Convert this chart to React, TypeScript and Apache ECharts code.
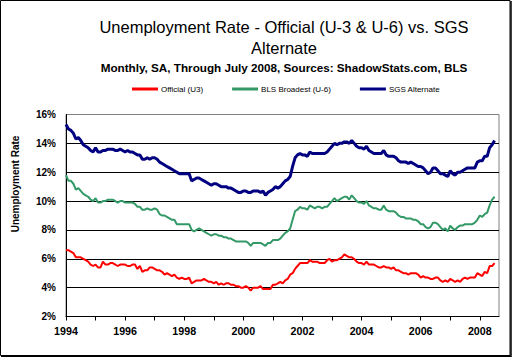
import React, { useEffect, useRef } from "react";
import * as echarts from "echarts";

const START_YEAR = 1994;
const TITLE_LINE1 = "Unemployment Rate - Official (U-3 & U-6) vs. SGS";
const TITLE_LINE2 = "Alternate";
const SUBTITLE = "Monthly, SA, Through July 2008, Sources: ShadowStats.com, BLS";
const Y_AXIS_TITLE = "Unemployment Rate";
const SERIES_NAMES = ["Official (U3)", "BLS Broadest (U-6)", "SGS Alternate"];
const X_TICK_YEARS = [1994, 1995, 1996, 1997, 1998, 1999, 2000, 2001, 2002, 2003, 2004, 2005, 2006, 2007, 2008];
const X_LABEL_YEARS = [1994, 1996, 1998, 2000, 2002, 2004, 2006, 2008];

// Monthly values, Jan 1994 .. Jul 2008
const officialU3 = [
  6.6, 6.6, 6.5, 6.4, 6.1, 6.1, 6.1, 6.0, 5.9, 5.8, 5.6, 5.5,
  5.6, 5.4, 5.4, 5.8, 5.6, 5.6, 5.7, 5.7, 5.6, 5.5, 5.6, 5.6,
  5.6, 5.5, 5.5, 5.6, 5.6, 5.3, 5.5, 5.1, 5.2, 5.2, 5.4, 5.4,
  5.3, 5.2, 5.2, 5.1, 4.9, 5.0, 4.9, 4.8, 4.9, 4.7, 4.6, 4.7,
  4.6, 4.6, 4.7, 4.3, 4.4, 4.5, 4.5, 4.5, 4.6, 4.5, 4.4, 4.4,
  4.3, 4.4, 4.2, 4.3, 4.2, 4.3, 4.3, 4.2, 4.2, 4.1, 4.1, 4.0,
  4.0, 4.1, 4.0, 3.8, 4.0, 4.0, 4.0, 4.1, 3.9, 3.9, 3.9, 3.9,
  4.2, 4.2, 4.3, 4.4, 4.3, 4.5, 4.6, 4.9, 5.0, 5.3, 5.5, 5.7,
  5.7, 5.7, 5.7, 5.9, 5.8, 5.8, 5.8, 5.7, 5.7, 5.7, 5.9, 6.0,
  5.8, 5.9, 5.9, 6.0, 6.1, 6.3, 6.2, 6.1, 6.1, 6.0, 5.8, 5.7,
  5.7, 5.6, 5.8, 5.6, 5.6, 5.6, 5.5, 5.4, 5.4, 5.5, 5.4, 5.4,
  5.3, 5.4, 5.2, 5.2, 5.1, 5.0, 5.0, 4.9, 5.0, 5.0, 5.0, 4.9,
  4.7, 4.8, 4.7, 4.7, 4.6, 4.6, 4.7, 4.7, 4.5, 4.4, 4.5, 4.4,
  4.6, 4.5, 4.4, 4.5, 4.4, 4.6, 4.7, 4.6, 4.7, 4.7, 4.7, 5.0,
  4.9, 4.8, 5.1, 5.0, 5.5, 5.5, 5.7,
];

const blsU6 = [
  11.8, 11.4, 11.4, 11.2, 10.8, 10.9, 10.7, 10.5, 10.4, 10.3, 10.1, 10.0,
  10.2, 9.9, 9.9, 10.0, 10.0, 10.1, 10.1, 10.1, 10.0, 9.9, 10.0, 10.0,
  9.9, 9.9, 9.9, 9.9, 9.8, 9.6, 9.6, 9.4, 9.4, 9.5, 9.4, 9.4,
  9.5, 9.4, 9.1, 9.0, 9.0, 8.9, 8.8, 8.7, 8.7, 8.4, 8.4, 8.4,
  8.4, 8.4, 8.4, 8.0, 7.9, 8.0, 8.1, 8.0, 7.9, 7.8, 7.7, 7.6,
  7.7, 7.7, 7.6, 7.6, 7.5, 7.5, 7.4, 7.4, 7.3, 7.2, 7.2, 7.2,
  7.2, 7.2, 7.1, 6.9, 7.1, 7.1, 7.1, 7.1, 7.0, 6.9, 7.1, 7.1,
  7.3, 7.3, 7.3, 7.4, 7.6, 7.8, 7.9, 8.1, 8.7, 9.3, 9.4, 9.6,
  9.5, 9.5, 9.4, 9.7, 9.6, 9.5, 9.6, 9.6, 9.5, 9.6, 9.6, 9.8,
  10.0, 10.2, 10.0, 10.1, 10.2, 10.3, 10.3, 10.1, 10.4, 10.2, 10.0, 9.9,
  9.9, 9.8, 10.0, 9.7, 9.6, 9.5, 9.5, 9.4, 9.4, 9.7, 9.4, 9.3,
  9.3, 9.3, 9.2, 9.0, 8.9, 8.9, 8.8, 8.8, 8.8, 8.7, 8.7, 8.6,
  8.4, 8.4, 8.2, 8.1, 8.2, 8.5, 8.5, 8.4, 8.2, 8.0, 8.1, 7.9,
  8.3, 8.1, 8.0, 8.2, 8.3, 8.3, 8.4, 8.4, 8.4, 8.4, 8.5, 8.7,
  9.0, 8.9, 9.1, 9.2, 9.7, 10.1, 10.3,
];

const sgsAlternate = [
  15.3, 15.0, 14.9, 14.7, 14.3, 14.4, 14.2, 13.9, 13.8, 13.7, 13.5, 13.4,
  13.7, 13.4, 13.4, 13.5, 13.5, 13.6, 13.6, 13.6, 13.5, 13.5, 13.6, 13.5,
  13.4, 13.5, 13.4, 13.4, 13.3, 13.2, 13.2, 12.9, 12.9, 13.0, 12.9, 13.0,
  13.0, 12.9, 12.7, 12.6, 12.5, 12.4, 12.3, 12.2, 12.1, 12.0, 11.9, 11.9,
  11.9, 11.9, 11.9, 11.4, 11.5, 11.6, 11.6, 11.5, 11.4, 11.3, 11.2, 11.1,
  11.2, 11.2, 11.1, 11.0, 11.0, 11.0, 10.9, 10.9, 10.8, 10.7, 10.6, 10.6,
  10.7, 10.7, 10.6, 10.6, 10.7, 10.7, 10.7, 10.6, 10.7, 10.4, 10.6, 10.7,
  10.8, 11.0, 10.9, 11.0, 11.2, 11.4, 11.5, 11.7, 12.4, 13.0, 13.2, 13.3,
  13.2, 13.2, 13.1, 13.4, 13.3, 13.3, 13.3, 13.3, 13.3, 13.3, 13.4, 13.6,
  13.8, 14.0, 13.9, 14.0, 14.0, 14.1, 14.1, 14.0, 14.2, 14.0, 13.8, 13.7,
  13.7, 13.6, 13.8, 13.5, 13.4, 13.3, 13.3, 13.3, 13.3, 13.5, 13.2, 13.1,
  13.1, 13.1, 13.0, 12.8, 12.7, 12.7, 12.7, 12.6, 12.7, 12.6, 12.5, 12.4,
  12.4, 12.3, 12.1, 11.9, 12.0, 12.3, 12.3, 12.1, 11.9, 11.9, 11.8, 11.7,
  12.1, 11.9, 11.8, 12.0, 12.0, 12.1, 12.2, 12.3, 12.3, 12.3, 12.3, 12.7,
  12.8, 12.8, 13.1, 13.1, 13.7, 13.9, 14.2,
];

const FONT = "'Liberation Sans', Arial, sans-serif";

function toPoints(values: number[]) {
  return values.map((v, i) => [START_YEAR + i / 12, v]);
}

export default function App() {
  const ref = useRef<HTMLDivElement>(null);

  useEffect(() => {
    if (!ref.current) return;
    const chart = echarts.init(ref.current, null, { renderer: "svg" });
    chart.setOption({
      animation: false,
      backgroundColor: "#ffffff",
      graphic: [
        {
          type: "rect",
          shape: { x: 0.5, y: 0.5, width: 509.5, height: 355 },
          style: { fill: "none", stroke: "#000", lineWidth: 1 },
          silent: true,
        },
        {
          type: "line",
          shape: { x1: 511, y1: 1, x2: 511, y2: 357 },
          style: { stroke: "#000", lineWidth: 1.5 },
          silent: true,
        },
        {
          type: "line",
          shape: { x1: 1, y1: 356.5, x2: 511, y2: 356.5 },
          style: { stroke: "#000", lineWidth: 1.5 },
          silent: true,
        },
        {
          type: "text",
          x: 284,
          y: 27,
          style: {
            text: TITLE_LINE1,
            textAlign: "center",
            textVerticalAlign: "middle",
            font: `16.5px ${FONT}`,
            fill: "#000",
          },
        },
        {
          type: "text",
          x: 284,
          y: 48,
          style: {
            text: TITLE_LINE2,
            textAlign: "center",
            textVerticalAlign: "middle",
            font: `16.5px ${FONT}`,
            fill: "#000",
          },
        },
        {
          type: "text",
          x: 284,
          y: 67,
          style: {
            text: SUBTITLE,
            textAlign: "center",
            textVerticalAlign: "middle",
            font: `bold 11.7px ${FONT}`,
            fill: "#000",
          },
        },
        {
          type: "text",
          x: 15,
          y: 184,
          rotation: Math.PI / 2,
          style: {
            text: Y_AXIS_TITLE,
            textAlign: "center",
            textVerticalAlign: "middle",
            font: `bold 10px ${FONT}`,
            fill: "#000",
          },
        },
      ],
      legend: {
        left: 127,
        top: 80,
        itemWidth: 26,
        itemHeight: 3,
        itemGap: 29,
        icon: "rect",
        textStyle: { fontSize: 8, fontFamily: FONT, color: "#000", padding: [0, 0, 0, -2] },
        data: SERIES_NAMES,
      },
      grid: {
        left: 66,
        top: 114.5,
        width: 433,
        height: 202,
        show: true,
        borderColor: "#808080",
        borderWidth: 1,
        backgroundColor: "transparent",
      },
      xAxis: {
        type: "value",
        min: START_YEAR,
        max: 2008.65,
        interval: 1,
        axisLine: { show: true, lineStyle: { color: "#000", width: 1 } },
        axisTick: {
          show: true,
          length: 4,
          lineStyle: { color: "#000" },
          customValues: X_TICK_YEARS,
        },
        axisLabel: {
          customValues: X_LABEL_YEARS,
          formatter: (v: number) => String(Math.round(v)),
          fontFamily: FONT,
          fontSize: 10.7,
          fontWeight: "bold",
          color: "#000",
          margin: 9,
        },
        splitLine: { show: false },
      },
      yAxis: {
        type: "value",
        min: 2,
        max: 16,
        interval: 2,
        axisLine: { show: true, lineStyle: { color: "#000", width: 1 } },
        axisTick: { show: false },
        axisLabel: {
          formatter: "{value}%",
          fontFamily: FONT,
          fontSize: 10,
          fontWeight: "bold",
          color: "#000",
          margin: 10,
        },
        splitLine: {
          show: true,
          lineStyle: {
            color: ["#000", "#000", "#000", "#000", "#000", "#000", "#000", "#808080"],
            width: 1,
          },
        },
      },
      series: [
        {
          name: SERIES_NAMES[0],
          type: "line",
          data: toPoints(officialU3),
          showSymbol: false,
          symbol: "none",
          lineStyle: { color: "#FF0000", width: 2 },
          itemStyle: { color: "#FF0000" },
          z: 3,
        },
        {
          name: SERIES_NAMES[1],
          type: "line",
          data: toPoints(blsU6),
          showSymbol: false,
          symbol: "none",
          lineStyle: { color: "#339966", width: 2 },
          itemStyle: { color: "#339966" },
          z: 3,
        },
        {
          name: SERIES_NAMES[2],
          type: "line",
          data: toPoints(sgsAlternate),
          showSymbol: false,
          symbol: "none",
          lineStyle: { color: "#000080", width: 3 },
          itemStyle: { color: "#000080" },
          z: 3,
        },
      ],
    });
    return () => chart.dispose();
  }, []);

  return (
    <div
      ref={ref}
      style={{ position: "fixed", left: 0, top: 0, width: 513, height: 357, background: "#fff" }}
    />
  );
}
